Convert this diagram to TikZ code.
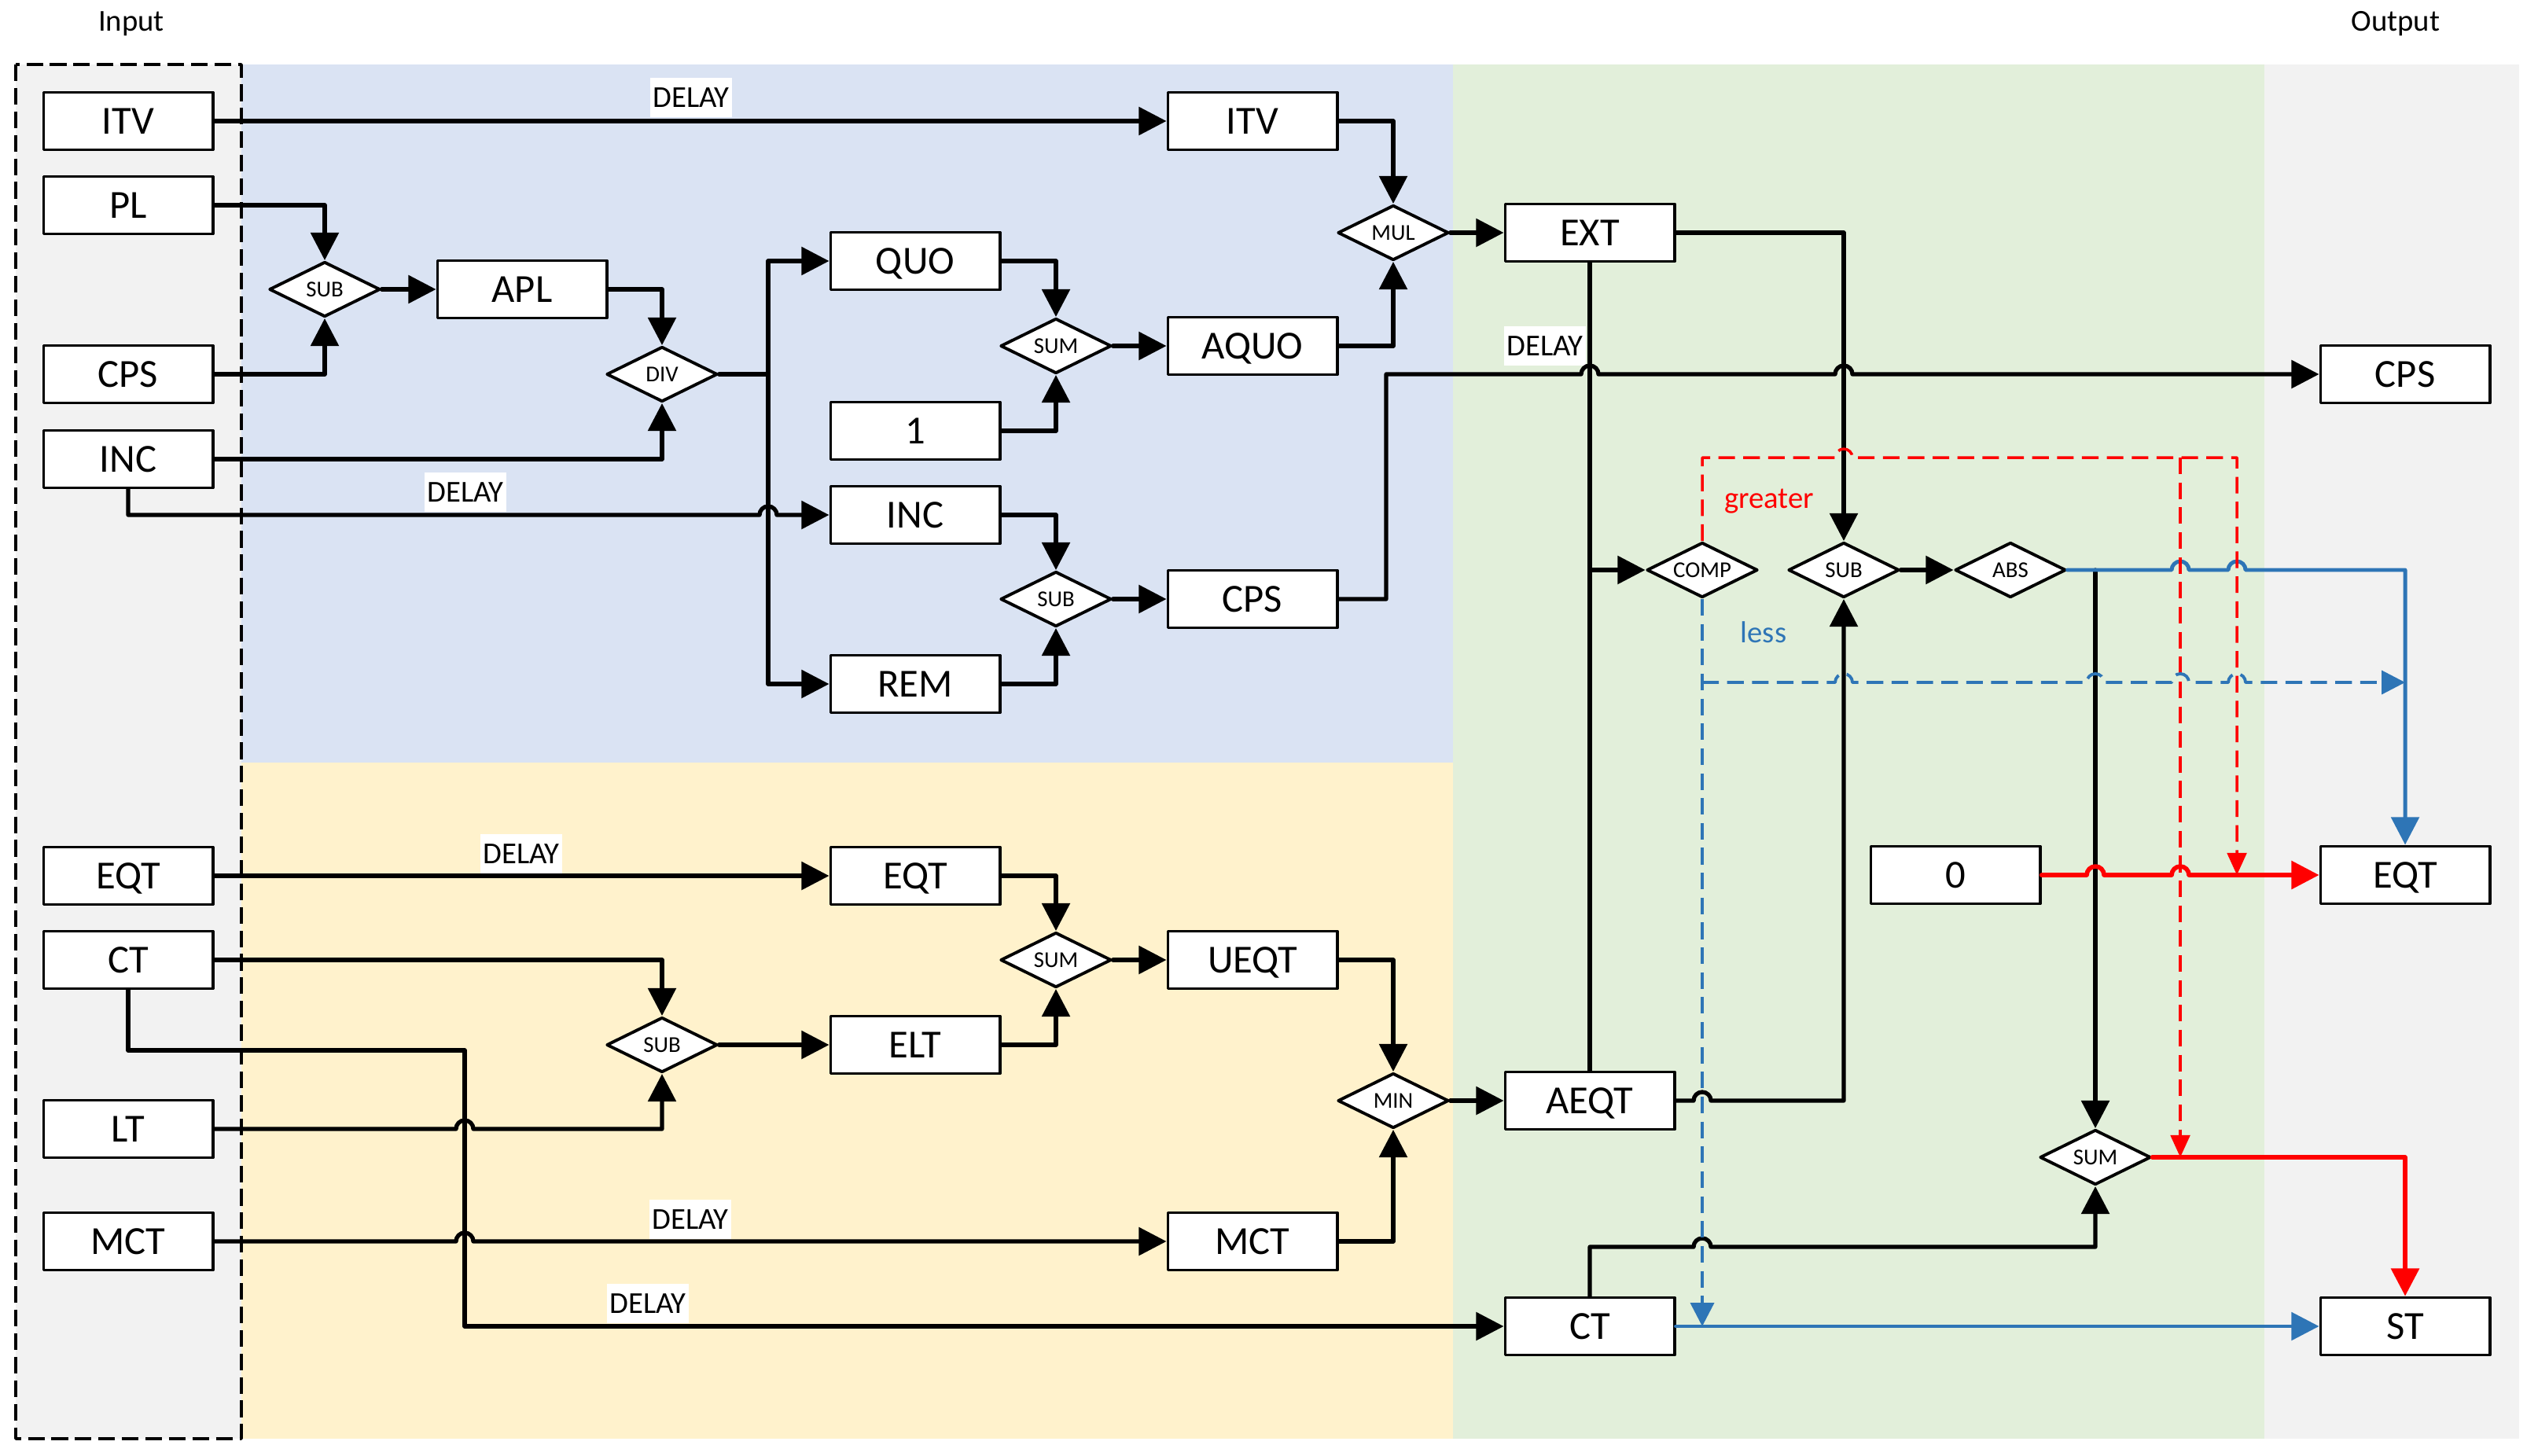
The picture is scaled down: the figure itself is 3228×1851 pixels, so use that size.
\documentclass[tikz,border=0pt]{standalone}
\usepackage{fontspec}
\setmainfont{Carlito}
\usepackage{tikz}
\usetikzlibrary{arrows.meta}
\usetikzlibrary{shapes.geometric}
\usetikzlibrary{calc}
\definecolor{linkblue}{RGB}{46,117,182}
\definecolor{paleblue}{RGB}{218,227,243}
\definecolor{paleyellow}{RGB}{255,242,204}
\definecolor{palegreen}{RGB}{226,239,218}
\definecolor{palegray}{RGB}{242,242,242}
% line jump over a vertical wire
\newcommand{\linehop}[1]{-- ($#1+(-11,0)$) arc[start angle=180,end angle=0,radius=0.11cm]}

\begin{document}
\begin{tikzpicture}[line cap=round,line join=round,x=0.01cm,y=-0.01cm,
  box/.style={draw,line width=1.1pt,fill=white,minimum width=2.15cm,minimum height=0.73cm,inner sep=0pt,font=\fontsize{14.4}{17}\selectfont,text height=9.3pt,text depth=0pt},
  op/.style={diamond,aspect=2,draw,line width=1.1pt,fill=white,minimum width=1.41cm,minimum height=0.70cm,inner sep=0pt,font=\fontsize{8.2}{10}\selectfont,text height=5.3pt,text depth=0pt},
  delay/.style={fill=white,inner xsep=1pt,inner ysep=3.5pt,font=\fontsize{11}{13}\selectfont,text height=7.1pt,text depth=0pt},
  note/.style={inner sep=0pt,font=\fontsize{11}{13}\selectfont},
  flow/.style={line width=1.5pt,-{Triangle[length=10pt,width=10pt]}},
  blueflow/.style={linkblue,line width=1.4pt,-{Triangle[length=10pt,width=10pt]}},
  redflow/.style={red,line width=1.6pt,-{Triangle[length=10pt,width=10pt]}},
  reddash/.style={red,line width=1pt,line cap=butt,dash pattern=on 6pt off 3pt,-{Triangle[length=8pt,width=7pt]}},
  bluedash/.style={linkblue,line width=1.1pt,line cap=butt,dash pattern=on 6pt off 3pt,-{Triangle[length=8.5pt,width=8.5pt]}}]
\useasboundingbox (0,0) rectangle (3228,1851);
% regions
\fill[palegray] (20,82) rectangle (307,1830);
\fill[paleblue] (307,82) rectangle (1848,970);
\fill[paleyellow] (307,970) rectangle (1848,1830);
\fill[palegreen] (1848,82) rectangle (2880,1830);
\fill[palegray] (2880,82) rectangle (3204,1830);
\draw[line width=1pt,line cap=butt,dash pattern=on 6pt off 2.5pt] (20,82) rectangle (307,1830);
\node[note] (input) at (167,30) {Input};
\node[note] (output) at (3047,30) {Output};
% inputs
\node[box] (inITV) at (163,154) {ITV};
\node[box] (inPL) at (163,261) {PL};
\node[box] (inCPS) at (163,476) {CPS};
\node[box] (inINC) at (163,584) {INC};
\node[box] (inEQT) at (163,1114) {EQT};
\node[box] (inCT) at (163,1221) {CT};
\node[box] (inLT) at (163,1436) {LT};
\node[box] (inMCT) at (163,1579) {MCT};
% price block
\node[op] (subAPL) at (413,368) {SUB};
\node[box] (APL) at (664,368) {APL};
\node[op] (div) at (842,476) {DIV};
\node[box] (QUO) at (1164,332) {QUO};
\node[box] (one) at (1164,548) {1};
\node[box] (INCd) at (1164,655) {INC};
\node[box] (REM) at (1164,870) {REM};
\node[op] (sumQUO) at (1343,440) {SUM};
\node[op] (subREM) at (1343,762) {SUB};
\node[box] (ITVd) at (1593,154) {ITV};
\node[box] (AQUO) at (1593,440) {AQUO};
\node[box] (CPSd) at (1593,762) {CPS};
\node[op] (mul) at (1772,296) {MUL};
% quantity block
\node[box] (EQTd) at (1164,1114) {EQT};
\node[op] (subLT) at (842,1329) {SUB};
\node[box] (ELT) at (1164,1329) {ELT};
\node[op] (sumELT) at (1343,1221) {SUM};
\node[box] (UEQT) at (1593,1221) {UEQT};
\node[box] (MCTd) at (1593,1579) {MCT};
\node[op] (min) at (1772,1400) {MIN};
% decision block
\node[box] (EXT) at (2022,296) {EXT};
\node[box] (AEQT) at (2022,1400) {AEQT};
\node[box] (CTd) at (2022,1687) {CT};
\node[op] (comp) at (2165,725) {COMP};
\node[op] (subEXT) at (2345,725) {SUB};
\node[op] (abs) at (2557,725) {ABS};
\node[box] (zero) at (2487,1113) {0};
\node[op] (sumST) at (2665,1472) {SUM};
% outputs
\node[box] (outCPS) at (3059,476) {CPS};
\node[box] (outEQT) at (3059,1113) {EQT};
\node[box] (outST) at (3059,1687) {ST};
% labels
\node[delay] (dlITV) at (879,124) {DELAY};
\node[delay] (dlINC) at (592,626) {DELAY};
\node[delay] (dlCPS) at (1965,440) {DELAY};
\node[delay] (dlEQT) at (663,1086) {DELAY};
\node[delay] (dlMCT) at (878,1551) {DELAY};
\node[delay] (dlCT) at (824,1658) {DELAY};
\node[note,red] (greater) at (2250,638) {greater};
\node[note,linkblue] (less) at (2243,804) {less};
% bends
\coordinate (split) at (977,476);
\coordinate (cpsbend) at (1763,762);
\coordinate (ctv) at (591,1336);
\coordinate (ctbend) at (2022,1586);
\coordinate (redA) at (2773,582);
\coordinate (redB) at (2845,582);
\coordinate (lessy) at (2165,868);
% price wires
\draw[flow] (inITV.east) -- (ITVd.west);
\draw[flow] (inPL.east) -| (subAPL.north);
\draw[flow] (inCPS.east) -| (subAPL.south);
\draw[flow] (subAPL.east) -- (APL.west);
\draw[flow] (APL.east) -| (div.north);
\draw[flow] (inINC.east) -| (div.south);
\draw[flow,-] (div.east) -- (split);
\draw[flow] (split) |- (QUO.west);
\draw[flow] (split) |- (REM.west);
\draw[flow] (inINC.south) -- (inINC.south |- INCd.west) \linehop{(split |- INCd.west)} -- (INCd.west);
\draw[flow] (QUO.east) -| (sumQUO.north);
\draw[flow] (one.east) -| (sumQUO.south);
\draw[flow] (sumQUO.east) -- (AQUO.west);
\draw[flow] (INCd.east) -| (subREM.north);
\draw[flow] (REM.east) -| (subREM.south);
\draw[flow] (subREM.east) -- (CPSd.west);
\draw[flow] (ITVd.east) -| (mul.north);
\draw[flow] (AQUO.east) -| (mul.south);
\draw[flow] (mul.east) -- (EXT.west);
\draw[flow] (CPSd.east) -- (cpsbend) -- (cpsbend |- outCPS.west) \linehop{(EXT |- outCPS.west)} \linehop{(subEXT |- outCPS.west)} -- (outCPS.west);
% quantity wires
\draw[flow] (inEQT.east) -- (EQTd.west);
\draw[flow] (inCT.east) -| (subLT.north);
\draw[flow] (inLT.east) \linehop{(ctv |- inLT.east)} -| (subLT.south);
\draw[flow] (subLT.east) -- (ELT.west);
\draw[flow] (EQTd.east) -| (sumELT.north);
\draw[flow] (ELT.east) -| (sumELT.south);
\draw[flow] (sumELT.east) -- (UEQT.west);
\draw[flow] (UEQT.east) -| (min.north);
\draw[flow] (MCTd.east) -| (min.south);
\draw[flow] (min.east) -- (AEQT.west);
\draw[flow] (inMCT.east) \linehop{(ctv |- inMCT.east)} -- (MCTd.west);
\draw[flow] (inCT.south) |- (ctv) |- (CTd.west);
% decision wires
\draw[flow] (EXT.east) -| (subEXT.north);
\draw[flow,-] (EXT.south) -- (AEQT.north);
\draw[flow] (EXT.south |- comp.west) -- (comp.west);
\draw[flow] (AEQT.east) \linehop{(comp |- AEQT.east)} -| (subEXT.south);
\draw[flow] (subEXT.east) -- (abs.west);
\draw[flow] (sumST |- abs.east) -- (sumST.north);
\draw[flow] (CTd.north) -- (ctbend) \linehop{(comp |- ctbend)} -| (sumST.south);
\draw[blueflow] (abs.east) \linehop{(redA |- abs.east)} \linehop{(redB |- abs.east)} -| (outEQT.north);
\draw[blueflow] (CTd.east) -- (outST.west);
\draw[redflow] (zero.east) \linehop{(sumST |- zero.east)} \linehop{(redA |- zero.east)} -- (outEQT.west);
\draw[redflow] (sumST.east) -| (outST.north);
\draw[reddash] (comp.north) -- (comp.north |- redB) \linehop{(subEXT |- redB)} -- (redB) -- (redB |- outEQT.west);
\draw[reddash] (redA) -- (redA |- sumST.east);
\draw[bluedash] (comp.south) -- (comp.south |- CTd.east);
\draw[bluedash] (lessy) \linehop{(subEXT |- lessy)} \linehop{(sumST |- lessy)} \linehop{(redA |- lessy)} \linehop{(redB |- lessy)} -- (outEQT.north |- lessy);
\end{tikzpicture}
\end{document}
